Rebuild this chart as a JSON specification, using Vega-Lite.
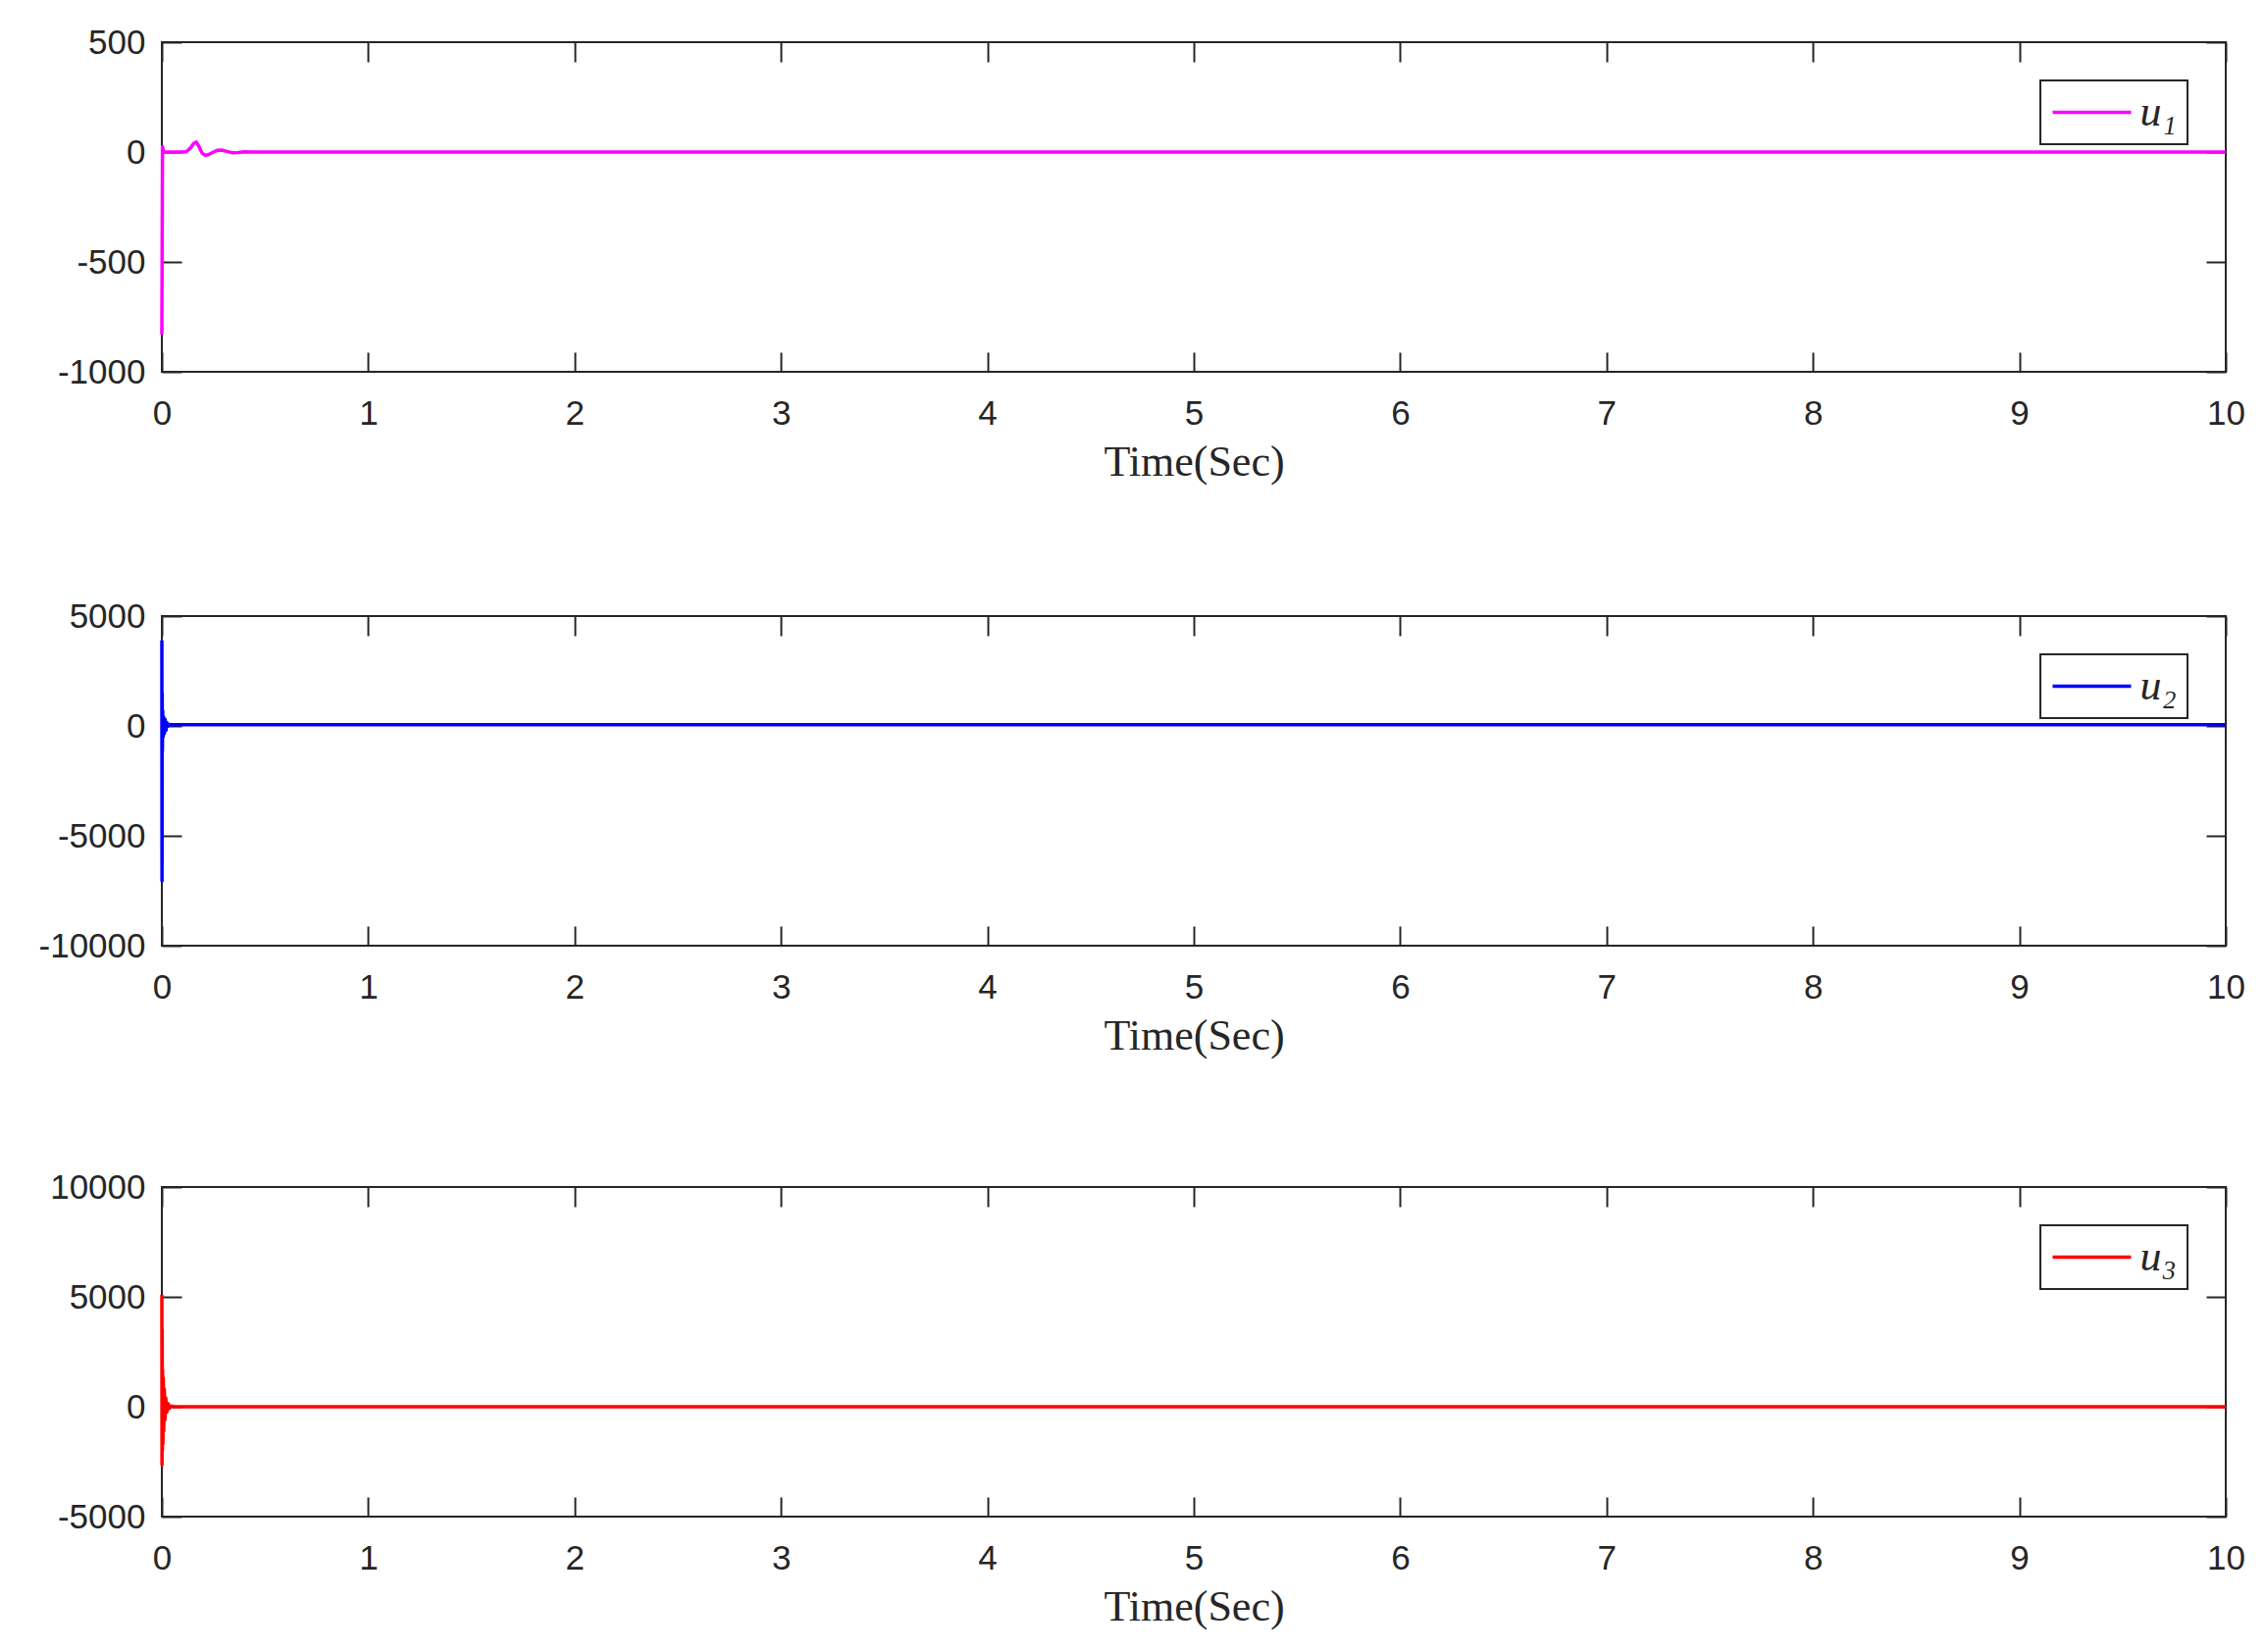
{
  "$schema": "https://vega.github.io/schema/vega-lite/v6.json",
  "background": "white",
  "padding": {"left": 38, "top": 25, "right": 0, "bottom": 0},
  "spacing": 116,
  "resolve": {"scale": {"x": "independent", "y": "independent", "color": "independent"}, "legend": {"color": "independent"}},
  "vconcat": [
    {
      "width": 2104, "height": 336,
      "data": {"values": [
        {"t": 0, "u": -830, "series": "u₁"},
        {"t": 0.003, "u": 25, "series": "u₁"},
        {"t": 0.008, "u": 0, "series": "u₁"},
        {"t": 0.1, "u": 0, "series": "u₁"},
        {"t": 0.12, "u": 2, "series": "u₁"},
        {"t": 0.14, "u": 20, "series": "u₁"},
        {"t": 0.155, "u": 40, "series": "u₁"},
        {"t": 0.167, "u": 45, "series": "u₁"},
        {"t": 0.18, "u": 25, "series": "u₁"},
        {"t": 0.195, "u": -5, "series": "u₁"},
        {"t": 0.21, "u": -15, "series": "u₁"},
        {"t": 0.225, "u": -12, "series": "u₁"},
        {"t": 0.25, "u": 0, "series": "u₁"},
        {"t": 0.27, "u": 8, "series": "u₁"},
        {"t": 0.29, "u": 9, "series": "u₁"},
        {"t": 0.31, "u": 4, "series": "u₁"},
        {"t": 0.34, "u": -3, "series": "u₁"},
        {"t": 0.37, "u": -2, "series": "u₁"},
        {"t": 0.4, "u": 1, "series": "u₁"},
        {"t": 0.45, "u": 0, "series": "u₁"},
        {"t": 10, "u": 0, "series": "u₁"}
      ]},
      "layer": [
        {
          "mark": {"type": "line", "strokeWidth": 3.5, "strokeJoin": "round"},
          "encoding": {
            "x": {"field": "t", "type": "quantitative", "scale": {"domain": [0, 10], "nice": false, "zero": false},
                  "axis": {"orient": "bottom", "values": [0,1,2,3,4,5,6,7,8,9,10], "title": "Time(Sec)"}},
            "y": {"field": "u", "type": "quantitative", "scale": {"domain": [-1000, 500], "nice": false, "zero": false},
                  "axis": {"orient": "left", "values": [-1000, -500, 0, 500], "title": null}},
            "color": {"field": "series", "type": "nominal", "scale": {"domain": ["u₁"], "range": ["#ff00ff"]}, "legend": {"title": null}}
          }
        },
        {
          "mark": {"type": "line", "opacity": 0},
          "encoding": {
            "x": {"field": "t", "type": "quantitative", "axis": {"orient": "top", "values": [0,1,2,3,4,5,6,7,8,9,10], "labels": false, "title": null}},
            "y": {"field": "u", "type": "quantitative", "axis": {"orient": "right", "values": [-1000, -500, 0, 500], "labels": false, "title": null}}
          }
        }
      ],
      "resolve": {"axis": {"x": "independent", "y": "independent"}}
    },
    {
      "spacing": 113,
      "resolve": {"scale": {"x": "independent", "y": "independent", "color": "independent"}, "legend": {"color": "independent"}},
      "vconcat": [
        {
          "width": 2104, "height": 336,
          "data": {"values": [
            {"t": 0, "u": 3900, "series": "u₂"},
            {"t": 0.0008, "u": -7050, "series": "u₂"},
            {"t": 0.0016, "u": 1500, "series": "u₂"},
            {"t": 0.0025, "u": -1200, "series": "u₂"},
            {"t": 0.004, "u": 700, "series": "u₂"},
            {"t": 0.006, "u": -500, "series": "u₂"},
            {"t": 0.009, "u": 400, "series": "u₂"},
            {"t": 0.012, "u": -350, "series": "u₂"},
            {"t": 0.016, "u": 300, "series": "u₂"},
            {"t": 0.02, "u": -200, "series": "u₂"},
            {"t": 0.025, "u": 150, "series": "u₂"},
            {"t": 0.03, "u": 0, "series": "u₂"},
            {"t": 0.04, "u": 70, "series": "u₂"},
            {"t": 0.05, "u": 60, "series": "u₂"},
            {"t": 10, "u": 60, "series": "u₂"}
          ]},
          "layer": [
            {
              "mark": {"type": "line", "strokeWidth": 3.5, "strokeJoin": "round"},
              "encoding": {
                "x": {"field": "t", "type": "quantitative", "scale": {"domain": [0, 10], "nice": false, "zero": false},
                      "axis": {"orient": "bottom", "values": [0,1,2,3,4,5,6,7,8,9,10], "title": "Time(Sec)"}},
                "y": {"field": "u", "type": "quantitative", "scale": {"domain": [-10000, 5000], "nice": false, "zero": false},
                      "axis": {"orient": "left", "values": [-10000, -5000, 0, 5000], "title": null}},
                "color": {"field": "series", "type": "nominal", "scale": {"domain": ["u₂"], "range": ["#0000ff"]}, "legend": {"title": null}}
              }
            },
            {
              "mark": {"type": "line", "opacity": 0},
              "encoding": {
                "x": {"field": "t", "type": "quantitative", "axis": {"orient": "top", "values": [0,1,2,3,4,5,6,7,8,9,10], "labels": false, "title": null}},
                "y": {"field": "u", "type": "quantitative", "axis": {"orient": "right", "values": [-10000, -5000, 0, 5000], "labels": false, "title": null}}
              }
            }
          ],
          "resolve": {"axis": {"x": "independent", "y": "independent"}}
        },
        {
          "width": 2104, "height": 336,
          "data": {"values": [
            {"t": 0, "u": 5100, "series": "u₃"},
            {"t": 0.0008, "u": -2650, "series": "u₃"},
            {"t": 0.0016, "u": 3500, "series": "u₃"},
            {"t": 0.0025, "u": -2000, "series": "u₃"},
            {"t": 0.0035, "u": 1700, "series": "u₃"},
            {"t": 0.005, "u": -1700, "series": "u₃"},
            {"t": 0.007, "u": 1300, "series": "u₃"},
            {"t": 0.009, "u": -1100, "series": "u₃"},
            {"t": 0.012, "u": 800, "series": "u₃"},
            {"t": 0.015, "u": -600, "series": "u₃"},
            {"t": 0.019, "u": 400, "series": "u₃"},
            {"t": 0.024, "u": -250, "series": "u₃"},
            {"t": 0.03, "u": 150, "series": "u₃"},
            {"t": 0.036, "u": -80, "series": "u₃"},
            {"t": 0.045, "u": 30, "series": "u₃"},
            {"t": 0.06, "u": 0, "series": "u₃"},
            {"t": 10, "u": 0, "series": "u₃"}
          ]},
          "layer": [
            {
              "mark": {"type": "line", "strokeWidth": 3.5, "strokeJoin": "round"},
              "encoding": {
                "x": {"field": "t", "type": "quantitative", "scale": {"domain": [0, 10], "nice": false, "zero": false},
                      "axis": {"orient": "bottom", "values": [0,1,2,3,4,5,6,7,8,9,10], "title": "Time(Sec)"}},
                "y": {"field": "u", "type": "quantitative", "scale": {"domain": [-5000, 10000], "nice": false, "zero": false},
                      "axis": {"orient": "left", "values": [-5000, 0, 5000, 10000], "title": null}},
                "color": {"field": "series", "type": "nominal", "scale": {"domain": ["u₃"], "range": ["#ff0000"]}, "legend": {"title": null}}
              }
            },
            {
              "mark": {"type": "line", "opacity": 0},
              "encoding": {
                "x": {"field": "t", "type": "quantitative", "axis": {"orient": "top", "values": [0,1,2,3,4,5,6,7,8,9,10], "labels": false, "title": null}},
                "y": {"field": "u", "type": "quantitative", "axis": {"orient": "right", "values": [-5000, 0, 5000, 10000], "labels": false, "title": null}}
              }
            }
          ],
          "resolve": {"axis": {"x": "independent", "y": "independent"}}
        }
      ]
    }
  ],
  "config": {
    "view": {"stroke": "#262626", "strokeWidth": 2},
    "axis": {
      "domain": false, "grid": false,
      "ticks": true, "tickSize": -20, "tickColor": "#262626", "tickWidth": 2,
      "labelFont": "Liberation Sans", "labelFontSize": 35, "labelColor": "#262626",
      "labelFlush": false, "labelOverlap": false,
      "labelExpr": "'' + datum.value",
      "titleFont": "Liberation Serif", "titleFontSize": 44, "titleFontWeight": "normal", "titleColor": "#262626", "titlePadding": 10
    },
    "axisBottom": {"labelPadding": 45},
    "axisLeft": {"labelPadding": 37},
    "legend": {
      "orient": "top-right", "offset": 39,
      "strokeColor": "#262626", "strokeWidth": 2, "fillColor": "white", "padding": 10.5,
      "clipHeight": 44,
      "labelFont": "Liberation Serif, DejaVu Serif", "labelFontStyle": "italic", "labelFontSize": 44, "labelColor": "#262626",
      "labelOffset": 7, "symbolType": "stroke", "symbolSize": 6400, "symbolStrokeWidth": 3.5
    }
  }
}
